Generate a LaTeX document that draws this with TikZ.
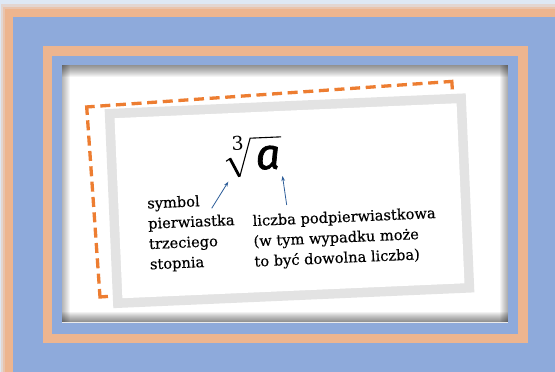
\documentclass[tikz,border=0pt]{standalone}
\usepackage{fontspec}
\setmainfont{DejaVu Serif}
\newfontfamily\afont[FakeBold=1.6]{Fira Sans}
\newfontfamily\lblfont[FakeBold=0.35]{DejaVu Serif}
\usetikzlibrary{arrows.meta}
\definecolor{bgblue}{HTML}{8EAADB}
\definecolor{peach}{HTML}{EDB58F}
\definecolor{pale}{HTML}{DEE8F4}
\definecolor{dashor}{HTML}{ED7D31}
\definecolor{cardgrey}{HTML}{E3E3E3}
\definecolor{arrblue}{HTML}{2F5F9A}
\tikzset{
  lbl/.style={anchor=base west, inner sep=0pt, rotate=2.5, font=\lblfont\fontsize{14.6}{17}\selectfont, text=black},
  dsh/.style={dashor, line width=3.3pt},
  pointer/.style={arrblue, line width=0.8pt, -{Stealth[length=5pt,width=3.6pt]}},
}
\begin{document}
\begin{tikzpicture}[x=1pt,y=-1pt]
\useasboundingbox (0,0) rectangle (555,372);
% background and outer frame
\fill[pale] (0,0) rectangle (555,372);
\fill[peach!35!pale] (1,4) rectangle (560,380);
\fill[peach!70!pale] (3,6.5) rectangle (560,380);
\fill[peach] (5,9) rectangle (560,380);
\fill[bgblue] (13,17) rectangle (560,380);
% inner ring
\fill[peach] (42.7,46) rectangle (528,343);
\fill[bgblue] (52,55.5) rectangle (518,333.5);
% picture area with inner shadow
\fill[white] (62,65) rectangle (508,323);
\foreach \i in {1,...,12} \fill[black,opacity=0.045] (62,65) rectangle (508,65+\i);
\foreach \i in {1,...,8} \fill[black,opacity=0.04] (62,65) rectangle (62+\i,323);
\foreach \i in {1,...,8} \fill[black,opacity=0.045] (508-\i,65) rectangle (508,323);
\foreach \i in {1,...,10} \fill[black,opacity=0.05] (62,321.5-\i) rectangle (508,321.5);
\fill[white!92!black] (62,321.5) rectangle (508,323);
% dashed frame
\begin{scope}[shift={(275.9,189.2)}, rotate=4]
  \coordinate (dTL) at (-183,-95.25);
  \coordinate (dTR) at (183,-95.25);
  \coordinate (dBR) at (183,95.25);
  \coordinate (dBL) at (-183,95.25);
  \draw[dsh] (-175,-95.25) -- (dTL) -- (-183,-87.25);
  \draw[dsh] (175,-95.25) -- (dTR) -- (183,-87.25);
  \draw[dsh] (175,95.25) -- (dBR) -- (183,87.25);
  \draw[dsh] (-175,95.25) -- (dBL) -- (-183,87.25);
  \draw[dsh, dash pattern=on 10pt off 5.65pt, dash phase=10pt] (-175,-95.25) -- (175,-95.25);
  \draw[dsh, dash pattern=on 10pt off 5.65pt, dash phase=10pt] (-175,95.25) -- (175,95.25);
  \draw[dsh, dash pattern=on 10pt off 5.375pt, dash phase=10pt] (-183,-87.25) -- (-183,87.25);
  \draw[dsh, dash pattern=on 10pt off 5.375pt, dash phase=10pt] (183,-87.25) -- (183,87.25);
\end{scope}
% card
\begin{scope}[shift={(289.5,200.75)}, rotate=2.5]
  \fill[cardgrey] (-180.7,-99.6) rectangle (180.7,99.6);
  \fill[white] (-171.2,-90.1) rectangle (171.2,90.1);
\end{scope}
% cube root
\begin{scope}[shift={(255,158)}, rotate=2.5]
  \draw[line width=1.2pt, line join=round] (-29,2) -- (-25,-0.4);
  \draw[line width=2.8pt] (-25.2,-0.8) -- (-16.3,17.8);
  \draw[line width=1.1pt, line join=miter] (-16.1,18.2) -- (-4,-20) -- (27,-20);
\end{scope}
\node[inner sep=0pt, rotate=2.5, font=\fontsize{19}{19}\selectfont] (three) at (237.5,143.5) {3};
\node[anchor=base, inner sep=0pt, rotate=2.5, font=\afont\itshape\fontsize{43}{43}\selectfont] (aa) at (268.5,169) {a};
% labels
\node[lbl] (l1) at (147.3,208.5) {symbol};
\node[lbl] (l2) at (148.2,228.8) {pierwiastka};
\node[lbl] (l3) at (149.1,249.1) {trzeciego};
\node[lbl] (l4) at (150.0,269.4) {stopnia};
\node[lbl] (r1) at (252.7,226) {liczba podpierwiastkowa};
\node[lbl] (r2) at (253.6,246.3) {(w tym wypadku może};
\node[lbl] (r3) at (254.5,266.6) {to być dowolna liczba)};
% arrows
\coordinate (la0) at (211.7,208.3);
\coordinate (la1) at (228.3,181.7);
\coordinate (ra0) at (286.7,205);
\coordinate (ra1) at (282.5,176);
\draw[pointer] (la0) -- (la1);
\draw[pointer] (ra0) -- (ra1);
\end{tikzpicture}
\end{document}
